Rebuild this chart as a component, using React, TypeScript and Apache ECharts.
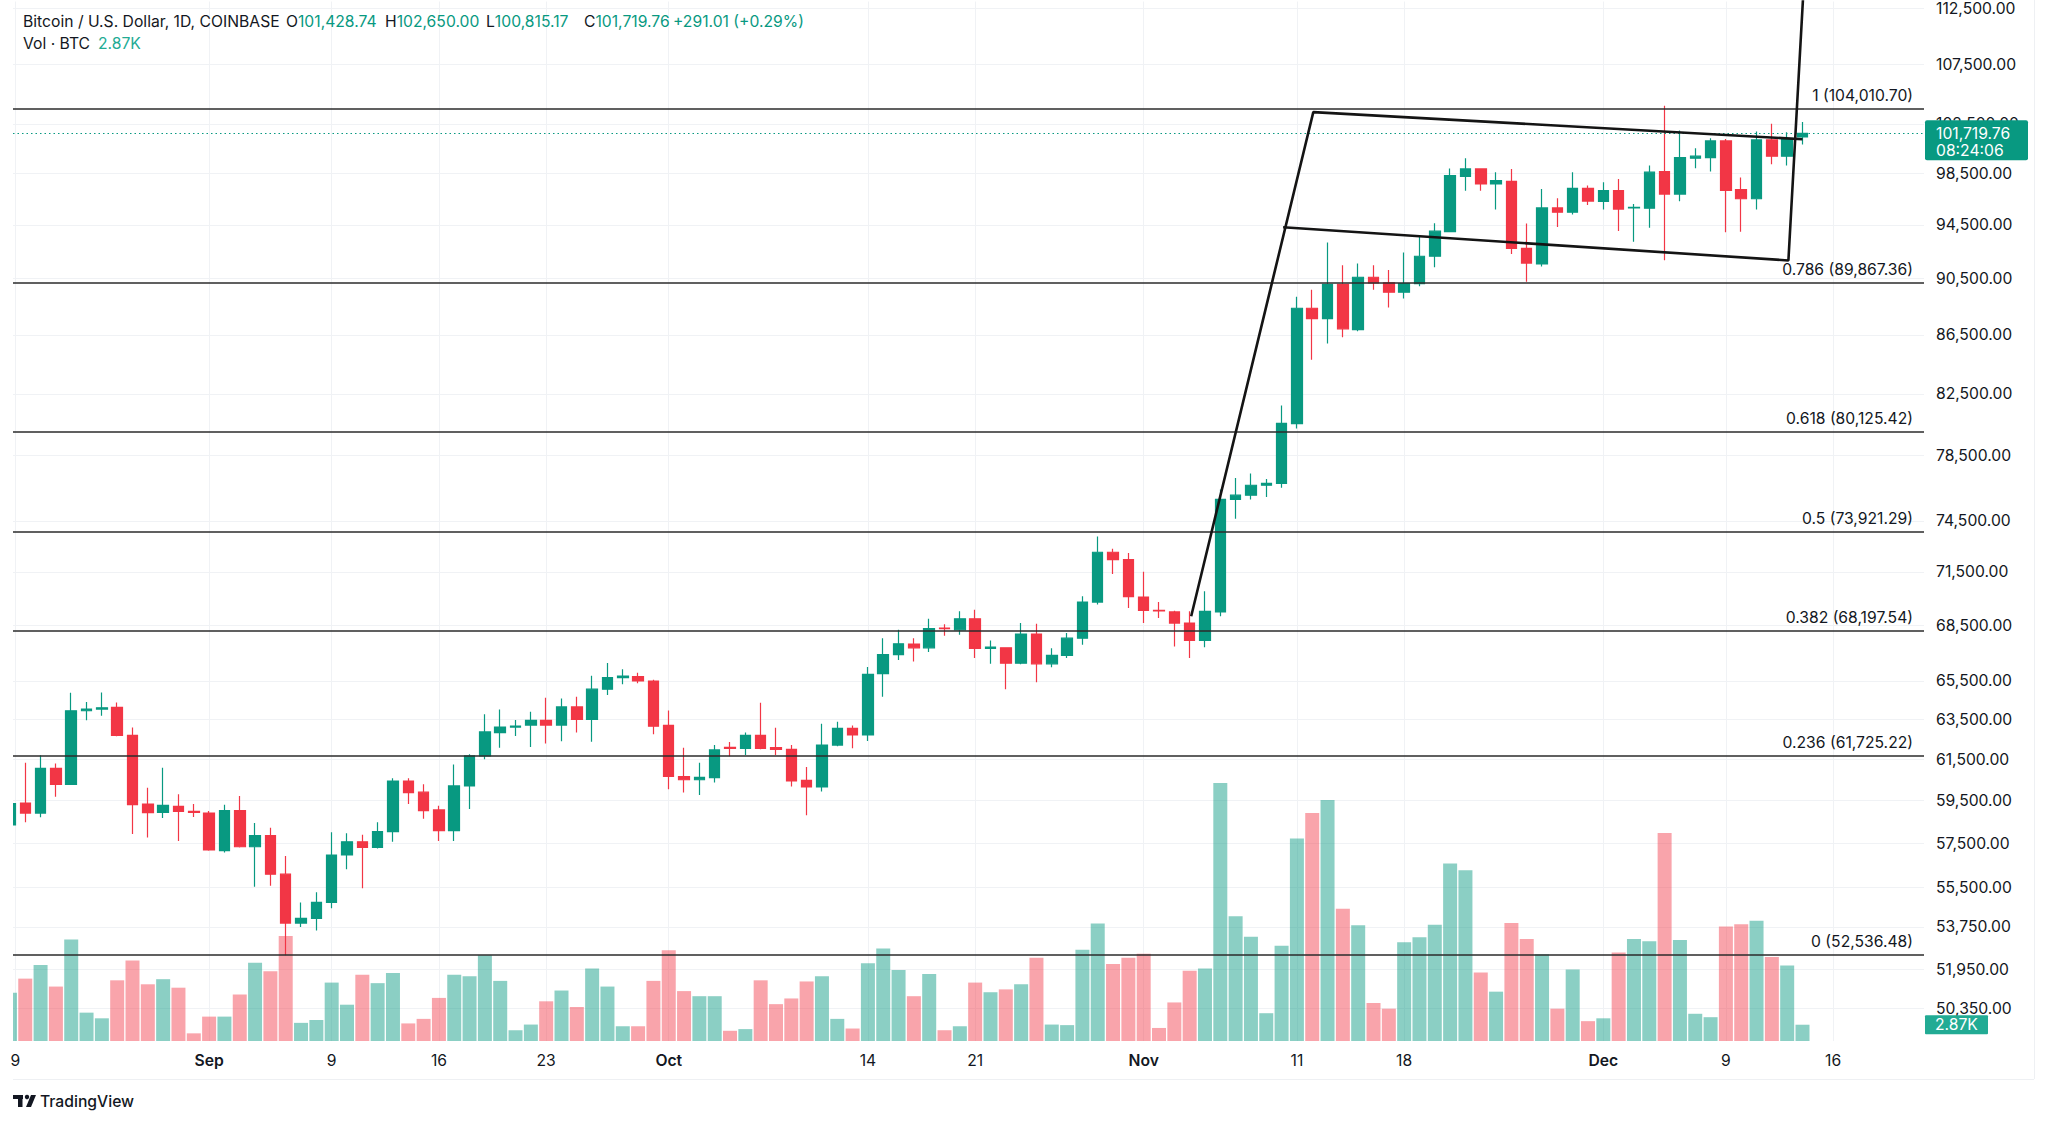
import React, { useEffect, useRef } from 'react';
import * as echarts from 'echarts';

// ---------- data ----------
const dateLabelIdx = [0, 13, 21, 28, 35, 43, 56, 63, 74, 84, 91, 104, 112, 119];
const dateLabels = ['9', 'Sep', '9', '16', '23', 'Oct', '14', '21', 'Nov', '11', '18', 'Dec', '9', '16'];
const monthLabels = ['Sep', 'Oct', 'Nov', 'Dec'];

const priceTicks = [112500, 107500, 102500, 98500, 94500, 90500, 86500, 82500, 78500, 74500, 71500, 68500, 65500, 63500, 61500, 59500, 57500, 55500, 53750, 51950, 50350];

// daily candles, index 0 = Aug 19 2024 ... 117 = Dec 14 2024
const opens = [
  58340, 59380, 58900, 61060, 60280, 63950, 64040, 64120, 62700, 59330,
  58940, 59220, 58980, 58900, 57150, 59020, 57330, 57840, 56080, 53920,
  54120, 54820, 56950, 57560, 57300, 58030, 60440, 59900, 59050, 58080,
  60200, 61670, 62840, 63120, 63220, 63460, 63220, 64150, 63510, 65070,
  65680, 65730, 65500, 63200, 60660, 60500, 60600, 62100, 62040, 62700,
  62080, 62000, 60470, 60150, 62210, 63050, 62720, 65890, 66900, 67470,
  67270, 68340, 68250, 68860, 67240, 67270, 66440, 68020, 66410, 66860,
  67790, 69790, 72640, 72210, 70070, 69330, 69240, 68620, 67670, 69240,
  75790, 76050, 76660, 76770, 80550, 88380, 87650, 90090, 86880, 90610,
  90200, 89530, 90140, 92150, 94000, 98260, 98850, 97660, 97870, 92740,
  91580, 95800, 95470, 97320, 96310, 97140, 95800, 95780, 98640, 96870,
  99710, 99760, 101100, 97220, 96510, 101180, 99870, 101428.74,
];
const closes = [
  59350, 58900, 61060, 60280, 63950, 64040, 64100, 62700, 59300, 58920,
  59270, 58980, 58940, 57180, 59020, 57330, 57840, 56080, 53920, 54120,
  54820, 56950, 57560, 57300, 58030, 60440, 59880, 59020, 58080, 60200,
  61670, 62870, 63120, 63170, 63460, 63220, 64150, 63510, 65070, 65680,
  65760, 65500, 63160, 60660, 60500, 60620, 61970, 62040, 62700, 62050,
  62000, 60440, 60150, 62210, 63050, 62720, 65850, 66900, 67490, 67270,
  68310, 68310, 68860, 67240, 67310, 66440, 68020, 66410, 66860, 67790,
  69790, 72640, 72210, 70090, 69330, 69290, 68620, 67670, 69270, 75790,
  76050, 76660, 76770, 80570, 88380, 87650, 90090, 86930, 90610, 90200,
  89530, 90140, 92150, 94030, 98330, 98850, 97660, 97920, 92740, 91650,
  95800, 95470, 97320, 96330, 97140, 95710, 95850, 98590, 96870, 99760,
  99870, 101100, 97160, 96510, 101180, 99870, 101310, 101719.76,
];
const highs = [
  59700, 61330, 61700, 61300, 64880, 64400, 64900, 64380, 63100, 60110,
  61090, 59800, 59330, 59000, 59300, 59720, 58440, 58210, 56900, 54820,
  55270, 58000, 57950, 57890, 58470, 60570, 60570, 60280, 59250, 61250,
  61750, 63770, 64020, 63480, 63900, 64620, 64580, 64670, 65770, 66450,
  66120, 65940, 65560, 63970, 62080, 61330, 62210, 62370, 62840, 64370,
  63080, 62210, 61130, 63290, 63390, 63200, 66240, 67790, 68250, 67790,
  68860, 68560, 69270, 69360, 67670, 67300, 68620, 68580, 67240, 68080,
  70110, 73560, 72840, 72600, 71510, 69790, 69300, 69270, 70400, 76400,
  77100, 77390, 77040, 81740, 89200, 89710, 93180, 91480, 91620, 91480,
  91140, 92420, 93710, 94620, 98880, 99700, 98900, 98590, 98850, 94600,
  97270, 96540, 98590, 97550, 97790, 98050, 96100, 99120, 104010, 101950,
  100500, 101310, 101250, 98180, 101870, 102500, 101800, 102650,
];
const lows = [
  57850, 58470, 58700, 59680, 60250, 63460, 63700, 62650, 57920, 57760,
  58670, 57600, 58720, 57150, 57060, 57300, 55520, 55560, 52540, 53750,
  53600, 54560, 56300, 55450, 57250, 57560, 59330, 58640, 57600, 57600,
  59100, 61510, 62080, 62670, 62110, 62290, 62400, 62840, 62380, 64760,
  65330, 65380, 62750, 60040, 59880, 59770, 60370, 61650, 61720, 62000,
  61720, 60170, 58800, 59930, 62150, 62050, 62420, 64670, 66620, 66530,
  67050, 67920, 67980, 66720, 66410, 65070, 66390, 65430, 66230, 66720,
  67430, 69650, 71380, 69460, 68620, 68900, 67340, 66720, 67300, 69000,
  74620, 75790, 75940, 76500, 80230, 84800, 85910, 86340, 86760, 89710,
  88430, 89070, 89960, 91340, 93950, 97140, 97140, 95680, 92320, 90280,
  91400, 94350, 95300, 96030, 95680, 94040, 93230, 94280, 91860, 96310,
  98900, 98640, 93940, 93980, 95680, 99220, 99120, 100815.17,
];
// volume, thousands of BTC
const volumes = [
  8.5, 11.0, 13.4, 9.6, 17.9, 5.0, 4.0, 10.7, 14.2, 10.0,
  10.9, 9.4, 1.35, 4.3, 4.3, 8.2, 13.8, 12.3, 18.5, 3.2,
  3.7, 10.3, 6.4, 11.7, 10.2, 12.0, 3.1, 3.9, 7.6, 11.7,
  11.4, 15.1, 10.6, 1.9, 2.9, 7.0, 8.9, 6.0, 12.8, 9.6,
  2.6, 2.6, 10.6, 16.0, 8.8, 7.9, 7.9, 1.8, 2.1, 10.7,
  6.5, 7.5, 10.5, 11.4, 3.9, 2.2, 13.7, 16.3, 12.5, 7.9,
  11.8, 1.9, 2.6, 10.3, 8.6, 9.1, 10.0, 14.7, 2.9, 2.8,
  16.1, 20.7, 13.6, 14.7, 15.4, 2.3, 6.8, 12.4, 12.8, 45.5,
  22.0, 18.4, 4.9, 16.8, 35.7, 40.2, 42.5, 23.3, 20.4, 6.7,
  5.7, 17.4, 18.3, 20.5, 31.3, 30.1, 12.1, 8.7, 20.8, 18.0,
  15.3, 5.7, 12.6, 3.5, 4.0, 15.6, 18.0, 17.6, 36.7, 17.8,
  4.8, 4.2, 20.2, 20.6, 21.2, 14.8, 13.3, 2.87,
];

const fibLevels = [104010.70, 89867.36, 80125.42, 73921.29, 68197.54, 61725.22, 52536.48];
const fibRatios = ['1', '0.786', '0.618', '0.5', '0.382', '0.236', '0'];

// hand-drawn flag lines: [day index, price]
const flagPole = [[77.1, 69000], [85.07, 103470], [117.0, 101240]];
const flagBase = [[83.1, 94320], [116.08, 91840], [117.06, 114030]];

const lastPrice = 101719.76;
const lastChange = 291.01;
const lastChangePct = 0.29;
const lastVolume = 2.87;
const countdown = '08:24:06';

// ---------- layout ----------
const FONT = 'Inter, "Noto Sans", Roboto, sans-serif';
const FS = 15.7;
const TXT = '#131722';
const UP = '#089981';
const DOWN = '#F23645';
const X_MIN = 0.2;
const X_MAX = 124.93;
const Y_MIN = 10.80044;
const Y_MAX = 11.63592;
const VOL_MAX = 183.3;
const PANE_LEFT = 13;

const fmt2 = (n: number) => n.toLocaleString('en-US', { minimumFractionDigits: 2, maximumFractionDigits: 2 });

function buildOption() {
  const idx = opens.map((_, i) => i);
  const labelPos = dateLabelIdx.map((i) => Math.max(i, X_MIN + 0.15));
  const tickLn = priceTicks.map((p) => Math.log(p));

  const candleData = idx.map((i) => [i, Math.log(opens[i]), Math.log(closes[i]), Math.log(lows[i]), Math.log(highs[i])]);
  const volData = idx.map((i) => ({
    value: [i, volumes[i]],
    itemStyle: { color: closes[i] >= opens[i] ? 'rgba(8,153,129,0.47)' : 'rgba(242,54,69,0.45)' },
  }));

  const fibMarks: any[] = fibLevels.map((p, i) => ({
    yAxis: Math.log(p),
    lineStyle: { color: '#2b2b2b', width: 1.6, type: 'solid' },
    label: {
      show: true,
      position: 'insideEndTop',
      distance: [11, 5],
      formatter: `${fibRatios[i]} (${fmt2(p)})`,
      color: TXT,
      fontSize: FS,
      fontFamily: FONT,
    },
  }));
  fibMarks.push({
    yAxis: Math.log(lastPrice),
    lineStyle: { color: UP, width: 1.2, type: [1.5, 3] },
    label: { show: false },
  });

  return {
    animation: false,
    backgroundColor: '#ffffff',
    grid: { left: PANE_LEFT, right: 124, top: 0, height: 1041, containLabel: false },
    xAxis: {
      type: 'value',
      min: X_MIN,
      max: X_MAX,
      axisLine: { show: false },
      axisTick: { show: false, customValues: labelPos },
      splitLine: { show: true, lineStyle: { color: '#f0f2f5', width: 1 } },
      axisLabel: {
        customValues: labelPos,
        margin: 11,
        fontSize: FS,
        color: TXT,
        fontFamily: FONT,
        hideOverlap: false,
        formatter: (v: number) => {
          let k = 0;
          let bd = Infinity;
          labelPos.forEach((p, i) => {
            const d = Math.abs(p - v);
            if (d < bd) { bd = d; k = i; }
          });
          const t = dateLabels[k];
          return monthLabels.includes(t) ? `{m|${t}}` : t;
        },
        rich: { m: { fontSize: FS, fontWeight: 600, color: TXT, fontFamily: FONT } },
      },
    },
    yAxis: [
      {
        type: 'value',
        position: 'right',
        min: Y_MIN,
        max: Y_MAX,
        axisLine: { show: false },
        axisTick: { show: false, customValues: tickLn },
        splitLine: { show: true, lineStyle: { color: '#f0f2f5', width: 1 } },
        axisLabel: {
          customValues: tickLn,
          margin: 12,
          align: 'left',
          fontSize: FS,
          color: TXT,
          fontFamily: FONT,
          formatter: (v: number) => {
            let best = priceTicks[0];
            let bd = Infinity;
            for (const t of priceTicks) {
              const d = Math.abs(Math.log(t) - v);
              if (d < bd) { bd = d; best = t; }
            }
            return fmt2(best);
          },
        },
      },
      {
        type: 'value',
        min: 0,
        max: VOL_MAX,
        show: false,
        splitLine: { show: false },
      },
    ],
    series: [
      {
        type: 'candlestick',
        name: 'BTCUSD',
        data: candleData,
        encode: { x: 0, y: [1, 2, 3, 4] },
        barWidth: 11,
        clip: true,
        z: 2,
        silent: true,
        itemStyle: {
          color: UP,
          color0: DOWN,
          borderColor: UP,
          borderColor0: DOWN,
          borderWidth: 1.2,
        },
      },
      {
        type: 'bar',
        name: 'Volume',
        data: volData,
        xAxisIndex: 0,
        yAxisIndex: 1,
        barWidth: 14,
        clip: true,
        z: 3,
        silent: true,
      },
      {
        type: 'line',
        name: 'pole',
        data: flagPole.map(([x, p]) => [x, Math.log(p)]),
        symbol: 'none',
        z: 6,
        silent: true,
        lineStyle: { color: '#141414', width: 2.6 },
        markLine: {
          symbol: ['none', 'none'],
          silent: true,
          animation: false,
          data: fibMarks,
        },
      },
      {
        type: 'line',
        name: 'base',
        data: flagBase.map(([x, p]) => [x, Math.log(p)]),
        symbol: 'none',
        z: 6,
        silent: true,
        lineStyle: { color: '#141414', width: 2.6 },
      },
    ],
  };
}

function txt(x: number, y: number, text: string, extra: any = {}) {
  return {
    type: 'text',
    x,
    y,
    z: 100,
    silent: true,
    style: {
      text,
      fill: TXT,
      fontSize: FS,
      fontFamily: FONT,
      align: 'left',
      textAlign: 'left',
      verticalAlign: 'middle',
      textVerticalAlign: 'middle',
      ...extra,
    },
  };
}

function buildGraphic(yLast: number, yVol: number) {
  const rich = {
    d: { fill: TXT, fontSize: FS, fontFamily: FONT },
    g: { fill: UP, fontSize: FS, fontFamily: FONT },
  };
  const n = opens.length - 1;
  return [
    // mask so that the partly-off-pane first bar is cut at the pane's left edge
    { type: 'rect', z: 50, silent: true, shape: { x: 0, y: 52, width: PANE_LEFT, height: 1000 }, style: { fill: '#ffffff' } },
    // header
    txt(23, 21, 'Bitcoin / U.S. Dollar, 1D, COINBASE'),
    txt(286, 21, `{d|O}{g|${fmt2(opens[n])}}`, { rich }),
    txt(385, 21, `{d|H}{g|${fmt2(highs[n])}}`, { rich }),
    txt(486, 21, `{d|L}{g|${fmt2(lows[n])}}`, { rich }),
    txt(584, 21, `{d|C}{g|${fmt2(closes[n])}}`, { rich }),
    txt(673, 21, `+${fmt2(lastChange)} (+${lastChangePct.toFixed(2)}%)`, { fill: UP }),
    txt(23, 43, 'Vol · BTC'),
    txt(98, 43, `${lastVolume.toFixed(2)}K`, { fill: '#22ab94' }),
    // frame
    { type: 'line', z: 1, silent: true, shape: { x1: 2034.5, y1: 0, x2: 2034.5, y2: 1079 }, style: { stroke: '#eef0f3', lineWidth: 1 } },
    { type: 'line', z: 1, silent: true, shape: { x1: 13, y1: 1079.5, x2: 2034, y2: 1079.5 }, style: { stroke: '#eef0f3', lineWidth: 1 } },
    // last price badge
    { type: 'rect', z: 99, silent: true, shape: { x: 1925, y: yLast - 13, width: 103, height: 40, r: 2 }, style: { fill: UP } },
    txt(1936, yLast, fmt2(lastPrice), { fill: '#ffffff' }),
    txt(1936, yLast + 17, countdown, { fill: '#ffffff' }),
    // volume badge
    { type: 'rect', z: 99, silent: true, shape: { x: 1925, y: yVol - 9.5, width: 63, height: 19, r: 1 }, style: { fill: '#22ab94' } },
    txt(1935, yVol, `${lastVolume.toFixed(2)}K`, { fill: '#ffffff' }),
    // TradingView logo
    { type: 'rect', z: 100, silent: true, shape: { x: 13, y: 1095, width: 10, height: 4 }, style: { fill: TXT } },
    { type: 'rect', z: 100, silent: true, shape: { x: 18, y: 1095, width: 4.5, height: 12 }, style: { fill: TXT } },
    { type: 'circle', z: 100, silent: true, shape: { cx: 27, cy: 1097, r: 2.2 }, style: { fill: TXT } },
    { type: 'polygon', z: 100, silent: true, shape: { points: [[31, 1095], [36, 1095], [31, 1107], [26, 1107]] }, style: { fill: TXT } },
    txt(40, 1101, 'TradingView', { fontWeight: 500 }),
  ];
}

export default function App() {
  const ref = useRef<HTMLDivElement>(null);
  useEffect(() => {
    if (!ref.current) return;
    const chart = echarts.init(ref.current, null, { renderer: 'svg' });
    chart.setOption(buildOption() as any);
    const yLast = chart.convertToPixel({ yAxisIndex: 0 } as any, Math.log(lastPrice)) as unknown as number;
    const yVol = chart.convertToPixel({ yAxisIndex: 1 } as any, lastVolume) as unknown as number;
    chart.setOption({ graphic: buildGraphic(yLast, yVol) } as any);
    return () => chart.dispose();
  }, []);
  return (
    <div
      ref={ref}
      style={{ position: 'fixed', left: 0, top: 0, width: 2048, height: 1123, background: '#ffffff' }}
    />
  );
}
